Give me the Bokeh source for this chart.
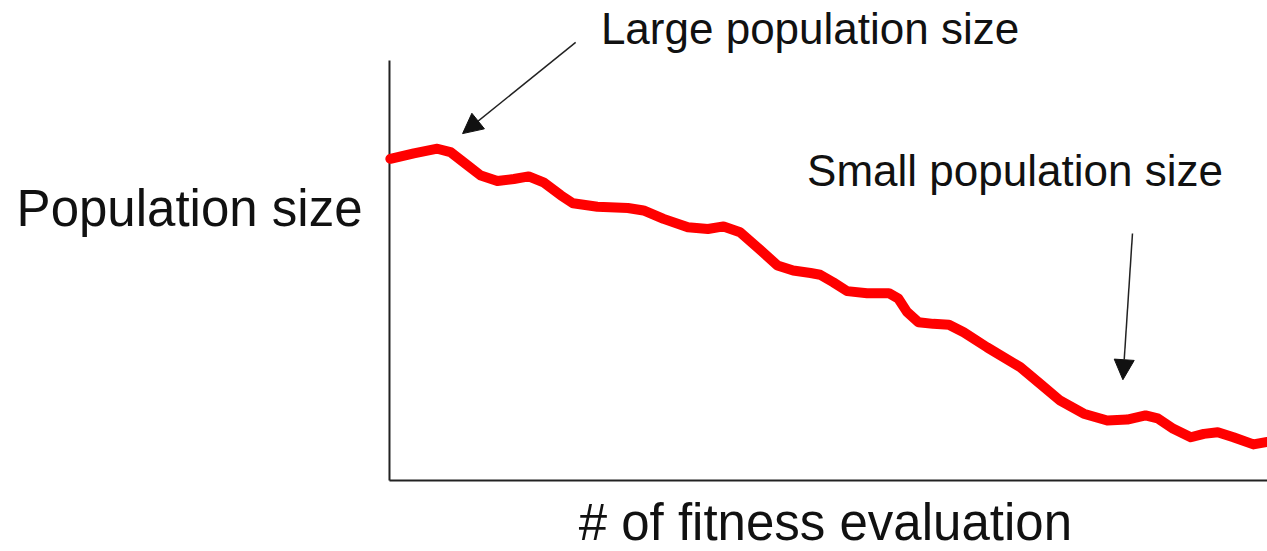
from bokeh.plotting import figure
from bokeh.models import Range1d, Label, Arrow, NormalHead
from bokeh.embed import file_html
from bokeh.resources import INLINE

# (arbitrary units: 0-100 on both axes)
evaluations = [0.1, 2.8, 5.5, 7.0, 9.0, 10.5, 12.4, 14.3, 16.0, 17.7, 19.7, 21.1,
               23.9, 27.4, 29.2, 31.5, 34.3, 36.6, 38.4, 40.3, 42.3, 44.6, 46.4,
               48.4, 49.5, 51.0, 52.6, 54.9, 57.4, 58.5, 59.5, 60.8, 62.5, 64.3,
               66.0, 68.7, 72.5, 74.8, 77.1, 79.8, 82.5, 84.8, 86.9, 88.3, 90.1,
               92.1, 93.6, 95.2, 97.0, 99.3, 100.9]
population = [76.6, 77.9, 79.0, 78.2, 75.0, 72.6, 71.3, 71.8, 72.4, 71.0, 67.9, 66.0,
              65.2, 64.9, 64.3, 62.3, 60.3, 59.9, 60.5, 59.1, 55.5, 51.2, 50.0,
              49.4, 49.0, 47.2, 45.1, 44.6, 44.6, 43.3, 40.1, 37.7, 37.3, 37.1,
              35.3, 31.7, 27.0, 23.0, 19.0, 15.9, 14.3, 14.5, 15.5, 14.8, 12.3,
              10.3, 11.1, 11.5, 10.3, 8.6, 9.2]

x_title = "# of fitness evaluation"
y_title = "Population size"
large_label = "Large population size"
small_label = "Small population size"

# visible data window (axes start at 0; margins left for the titles)
X_MIN, X_MAX = -44.71, 100.92
Y_MIN, Y_MAX = -16.90, 114.29
Y_AXIS_TOP = 100

FONT = "Liberation Sans"
TEXT_COLOR = "#111111"
AXIS_COLOR = "#222222"

p = figure(width=1267, height=551, output_backend="svg", toolbar_location=None,
           x_range=Range1d(X_MIN, X_MAX), y_range=Range1d(Y_MIN, Y_MAX),
           min_border=0, x_axis_type=None, y_axis_type=None)
p.outline_line_color = None
p.grid.visible = False
p.background_fill_color = "white"
p.border_fill_color = "white"

# axis lines (left and bottom)
p.segment(x0=[0, 0], y0=[0, 0], x1=[0, X_MAX], y1=[Y_AXIS_TOP, 0],
          line_color=AXIS_COLOR, line_width=2)

p.line(evaluations, population, line_color="#ff0000", line_width=10,
       line_join="round", line_cap="round")

# arrows
p.add_layout(Arrow(x_start=21.4, y_start=104.3, x_end=8.4, y_end=82.6,
                   line_color=AXIS_COLOR, line_width=1.5,
                   end=NormalHead(size=20, fill_color="#111111", line_color="#111111")))
p.add_layout(Arrow(x_start=85.4, y_start=58.8, x_end=84.3, y_end=24.0,
                   line_color=AXIS_COLOR, line_width=1.5,
                   end=NormalHead(size=20, fill_color="#111111", line_color="#111111")))

# texts
p.add_layout(Label(x=24.3, y=107.7, text=large_label, text_font=FONT,
                   text_font_size="44px", text_color=TEXT_COLOR,
                   text_baseline="alphabetic", text_align="left"))
p.add_layout(Label(x=48.0, y=73.9, text=small_label, text_font=FONT,
                   text_font_size="44px", text_color=TEXT_COLOR,
                   text_baseline="alphabetic", text_align="left"))
p.add_layout(Label(x=-3.1, y=64.8, text=y_title, text_font=FONT,
                   text_font_size="51px", text_color=TEXT_COLOR,
                   text_baseline="alphabetic", text_align="right"))
p.add_layout(Label(x=50.1, y=-9.9, text=x_title, text_font=FONT,
                   text_font_size="51px", text_color=TEXT_COLOR,
                   text_baseline="alphabetic", text_align="center"))

open("out.html", "w").write(file_html(p, INLINE))
